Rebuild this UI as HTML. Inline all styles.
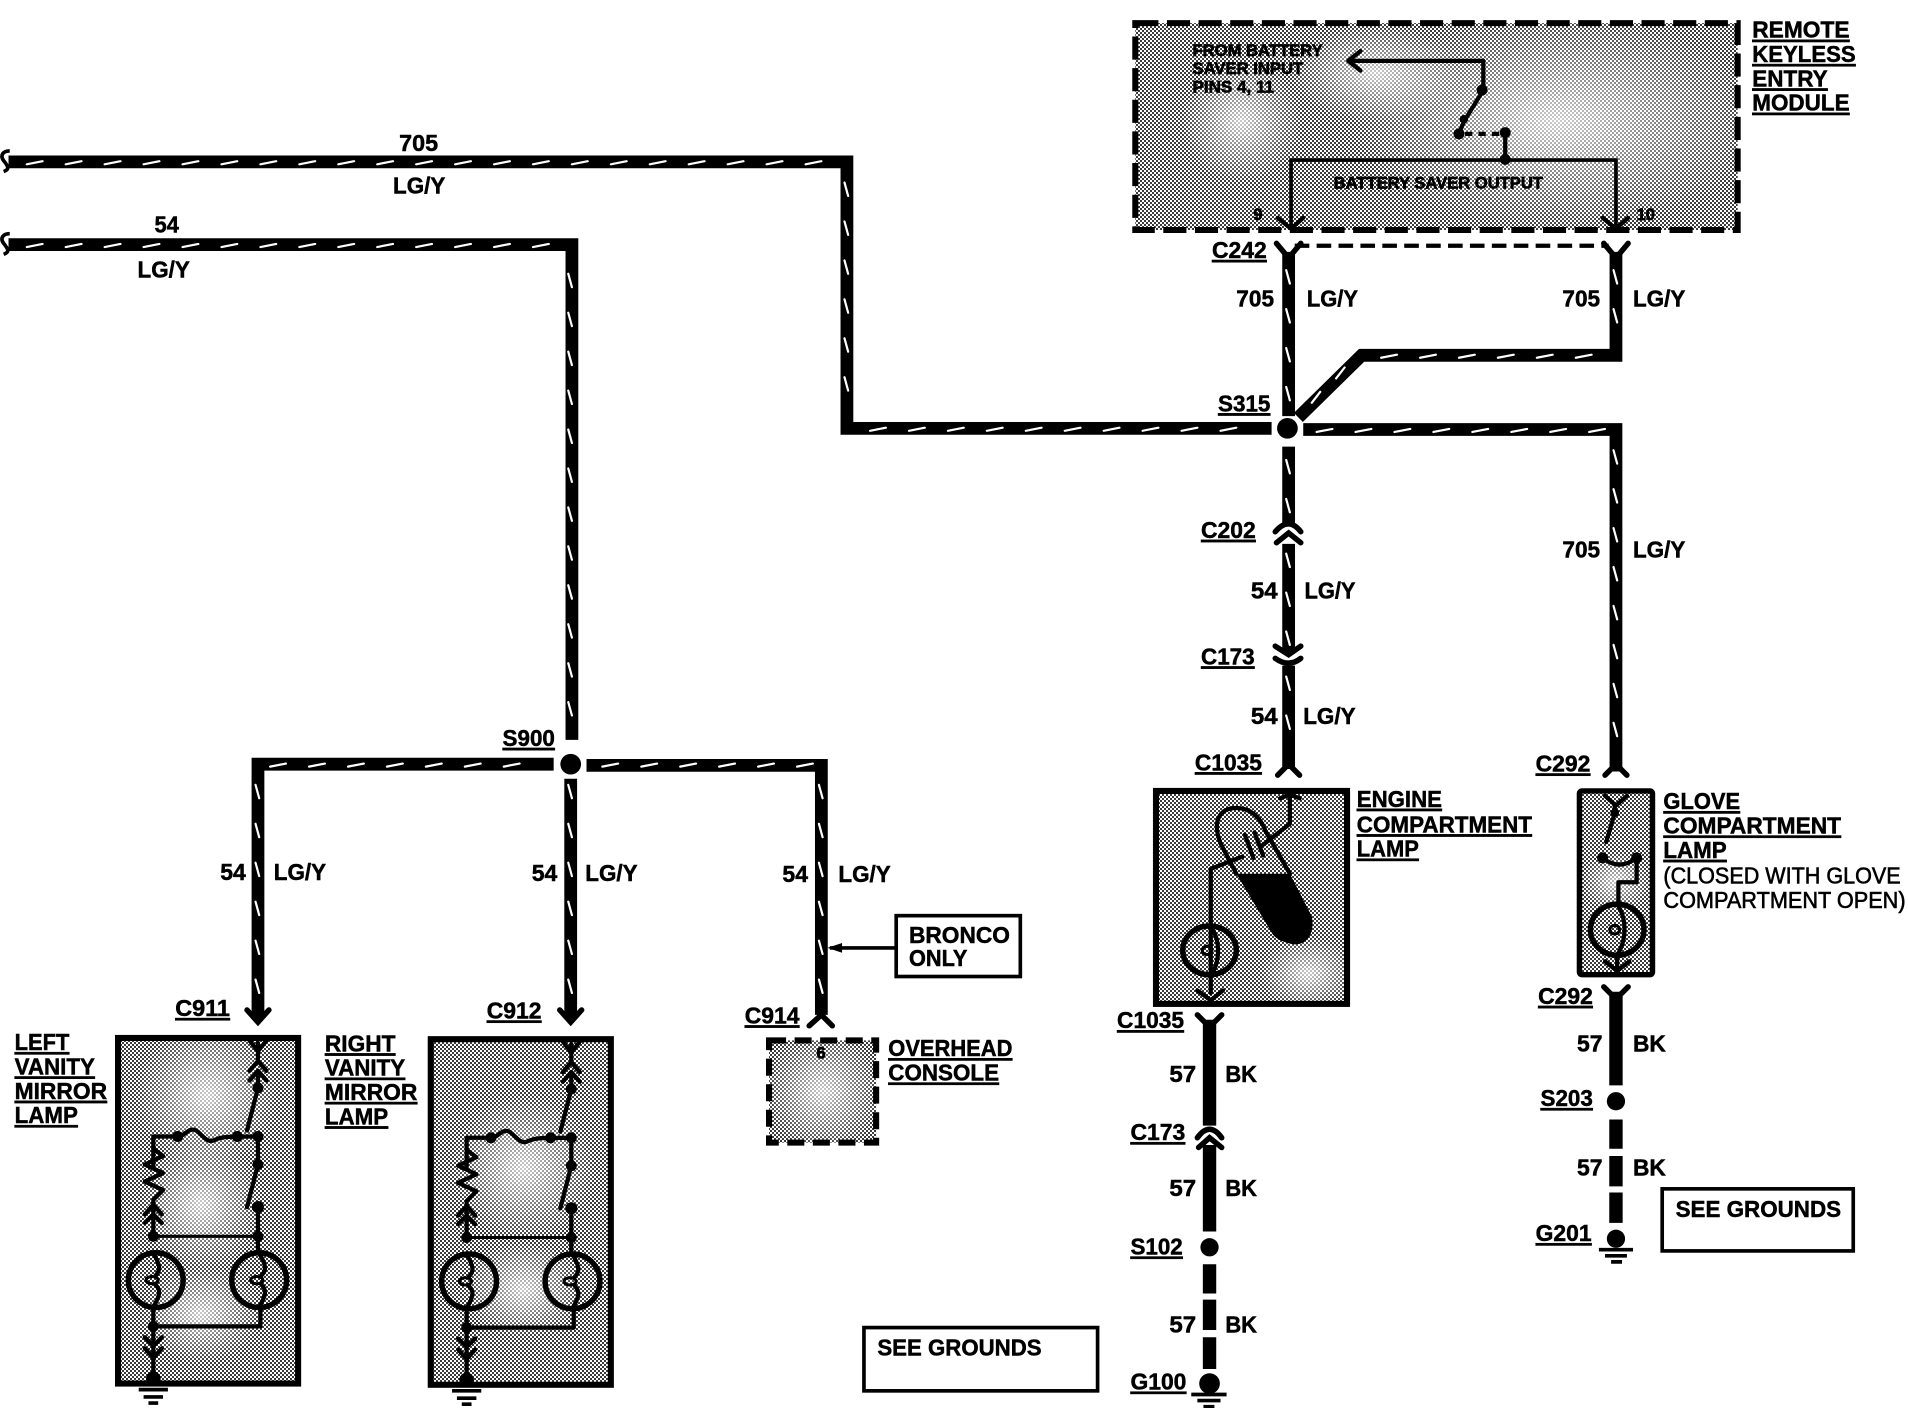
<!DOCTYPE html>
<html><head><meta charset="utf-8"><style>
html,body{margin:0;padding:0;background:#fff;width:1908px;height:1408px;overflow:hidden}
svg{display:block}
text{font-family:"Liberation Sans",sans-serif;font-weight:bold;font-size:19px;fill:#000;stroke:#000;stroke-width:.4px}
.u{text-decoration:underline}
.s{font-size:13.5px;stroke-width:.55px}
.n{font-weight:normal;stroke-width:.5px}
.w{fill:none;stroke:#000;stroke-width:10.5;stroke-linejoin:miter}
.d{fill:none;stroke:#fff;stroke-width:1.8;stroke-linecap:round}
.t{fill:none;stroke:#000;stroke-width:3.5;stroke-linejoin:round;stroke-linecap:round}
.f{fill:none;stroke:#000;stroke-width:4.5;stroke-linejoin:miter;stroke-linecap:round}
</style></head><body>
<svg xmlns="http://www.w3.org/2000/svg" width="1908" height="1408" viewBox="0 0 1568 1157.09">
<defs>
<pattern id="p" patternUnits="userSpaceOnUse" width="3.2872" height="3.2872">
<rect width="3.2872" height="3.2872" fill="#fff"/>
<rect width="1.6436" height="1.6436" fill="#3a3a3a"/>
<rect x="1.6436" y="1.6436" width="1.6436" height="1.6436" fill="#3a3a3a"/>
</pattern>
<radialGradient id="g"><stop offset="0" stop-color="#fff" stop-opacity=".75"/><stop offset="1" stop-color="#fff" stop-opacity="0"/></radialGradient>
<g id="van">
<path class="t" d="M212,857V870M205,855L212,864L219,855M205,880L212,872L219,880M205,888L212,880L219,888"/>
<path class="t" d="M212,880V894L203,929"/>
<path class="t" d="M126,958V934H146C152,934 155,926 161,929C166,932 170,940 176,937C182,934 186,934 212,934V957L203,992"/>
<path class="t" d="M126,944L134,950L119,957L134,964L119,971L134,978L126,986V1016"/>
<path class="t" d="M119,998L126,990L133,998M119,1005L126,998L133,1005"/>
<path class="t" d="M212,992V1016V1030"/>
<path d="M126,1016H212" stroke="#000" stroke-width="2.5"/>
<circle cx="146" cy="934" r="4.5"/><circle cx="195" cy="934" r="4.5"/><circle cx="212" cy="934" r="4.5"/>
<circle cx="212" cy="894" r="4.5"/><circle cx="212" cy="957" r="4.5"/><circle cx="212" cy="992" r="5"/>
<circle cx="126" cy="1016" r="4.5"/><circle cx="212" cy="1016" r="4.5"/>
<circle cx="128" cy="1052" r="22.5" fill="none" stroke="#000" stroke-width="4.5"/>
<circle cx="213" cy="1052" r="22.5" fill="none" stroke="#000" stroke-width="4.5"/>
<path class="t" d="M126,1030C132,1040 132,1044 128,1048M126,1074C132,1064 132,1060 128,1056M213,1030C219,1040 219,1044 215,1048M213,1074C219,1064 219,1060 215,1056"/>
<ellipse cx="125" cy="1052" rx="5" ry="3" fill="none" stroke="#000" stroke-width="2.5"/>
<ellipse cx="211" cy="1052" rx="5" ry="3" fill="none" stroke="#000" stroke-width="2.5"/>
<path class="t" d="M126,1074V1131M214,1074V1090H126"/>
<circle cx="126" cy="1090" r="4.5"/>
<path class="t" d="M119,1099L126,1106L133,1099M119,1108L126,1116L133,1108"/>
<circle cx="126" cy="1133" r="6"/>
<path d="M114,1142H138M118,1148H134M122,1153H130" stroke="#000" stroke-width="3"/>
</g>
</defs>
<rect width="1568" height="1158" fill="#fff"/>

<!-- module -->
<rect x="933" y="19" width="495" height="170" fill="url(#p)"/>
<ellipse cx="1280" cy="100" rx="170" ry="90" fill="url(#g)"/>
<ellipse cx="1130" cy="60" rx="70" ry="40" fill="url(#g)"/>
<ellipse cx="1020" cy="100" rx="50" ry="50" fill="url(#g)"/>
<rect x="933" y="19" width="495" height="170" fill="none" stroke="#000" stroke-width="5" stroke-dasharray="19 7"/>
<path class="t" d="M1219,50H1108M1118,42L1108,50L1118,58"/>
<path class="t" d="M1219,50V74L1203,100L1199,110"/>
<path d="M1204,110H1232" stroke="#000" stroke-width="3.5" stroke-dasharray="6 5"/>
<circle cx="1218" cy="74" r="4.5"/><circle cx="1203" cy="98" r="3.5"/><circle cx="1199" cy="110" r="4.5"/><circle cx="1237" cy="109" r="4.5"/><circle cx="1237" cy="131" r="4.5"/>
<path d="M1237,109V131" stroke="#000" stroke-width="3.5"/>
<path d="M1061,186V131.5H1328V186" fill="none" stroke="#000" stroke-width="3"/>
<path class="t" d="M1050,179L1061,188L1071,179M1317,179L1328,188L1338,179"/>
<text class="s" x="980" y="46" textLength="107" lengthAdjust="spacingAndGlyphs">FROM BATTERY</text>
<text class="s" x="980" y="61" textLength="91" lengthAdjust="spacingAndGlyphs">SAVER INPUT</text>
<text class="s" x="980" y="76" textLength="67" lengthAdjust="spacingAndGlyphs">PINS 4, 11</text>
<text class="s" x="1096" y="155" textLength="172" lengthAdjust="spacingAndGlyphs">BATTERY SAVER OUTPUT</text>
<text class="s" x="1030" y="181">9</text><text class="s" x="1345" y="181">10</text>

<!-- dashed link C242 -->
<path d="M1064,202H1322" stroke="#000" stroke-width="3.5" stroke-dasharray="12 6" fill="none"/>
<path class="f" d="M1049,200L1059,212L1069,200M1318,200L1328,212L1338,200"/>

<!-- wires -->
<path class="w" d="M7,133H696V352H1045"/>
<path class="w" d="M7,201H470V608"/>
<path d="M8,124C2,124 0,128 3,132C7,137 8,139 3,141M8,192C2,192 0,196 3,200C7,205 8,207 3,209" fill="none" stroke="#000" stroke-width="3"/>
<path class="w" d="M469,640V837"/>
<path class="w" d="M455,628H212V837"/>
<path class="w" d="M482,629H675V834"/>
<path class="f" d="M203,830L212,840L221,830M460,830L469,840L478,830"/>
<path class="f" d="M665,843L675,834L684,843"/>
<path class="w" d="M1059,207V342"/>
<path class="w" d="M1328,207V292H1119L1067,343"/>
<path class="w" d="M1071,353H1328V634"/>
<path class="w" d="M1059,367V431M1059,447V536M1059,547V632"/>
<path class="f" d="M1048,437Q1059,424 1069,437M1049,446L1059,438L1069,446M1048,531L1059,538L1069,531M1048,541Q1059,549 1069,541M1050,637L1059,628L1068,637"/>
<path class="f" d="M1319,637L1328,628L1337,637"/>

<!-- white slanted wire dashes -->
<path class="d" d="M22,135l13-2.5m19 2.5l13-2.5m19 2.5l13-2.5m19 2.5l13-2.5m19 2.5l13-2.5m19 2.5l13-2.5m19 2.5l13-2.5m19 2.5l13-2.5m19 2.5l13-2.5m19 2.5l13-2.5m19 2.5l13-2.5m19 2.5l13-2.5m19 2.5l13-2.5m19 2.5l13-2.5m19 2.5l13-2.5m19 2.5l13-2.5m19 2.5l13-2.5m19 2.5l13-2.5m19 2.5l13-2.5m19 2.5l13-2.5m19 2.5l13-2.5"/>
<path class="d" d="M22,203l13-2.5m19 2.5l13-2.5m19 2.5l13-2.5m19 2.5l13-2.5m19 2.5l13-2.5m19 2.5l13-2.5m19 2.5l13-2.5m19 2.5l13-2.5m19 2.5l13-2.5m19 2.5l13-2.5m19 2.5l13-2.5m19 2.5l13-2.5m19 2.5l13-2.5m19 2.5l13-2.5"/>
<path class="d" d="M715,354l13-2.5m19 2.5l13-2.5m19 2.5l13-2.5m19 2.5l13-2.5m19 2.5l13-2.5m19 2.5l13-2.5m19 2.5l13-2.5m19 2.5l13-2.5m19 2.5l13-2.5m19 2.5l13-2.5"/>
<path class="d" d="M222,630l13-2.5m19 2.5l13-2.5m19 2.5l13-2.5m19 2.5l13-2.5m19 2.5l13-2.5m19 2.5l13-2.5m19 2.5l13-2.5"/>
<path class="d" d="M495,630l13-2.5m19 2.5l13-2.5m19 2.5l13-2.5m19 2.5l13-2.5m19 2.5l13-2.5m19 2.5l13-2.5"/>
<path class="d" d="M1135,294l13-2.5m19 2.5l13-2.5m19 2.5l13-2.5m19 2.5l13-2.5m19 2.5l13-2.5m19 2.5l13-2.5"/>
<path class="d" d="M1082,355l13-2.5m19 2.5l13-2.5m19 2.5l13-2.5m19 2.5l13-2.5m19 2.5l13-2.5m19 2.5l13-2.5m19 2.5l13-2.5m19 2.5l13-2.5"/>
<path class="d" d="M694,150l3 11m-3 21l3 11m-3 21l3 11m-3 21l3 11m-3 21l3 11m-3 21l3 11"/>
<path class="d" d="M467,225l3 11m-3 21l3 11m-3 21l3 11m-3 21l3 11m-3 21l3 11m-3 21l3 11m-3 21l3 11m-3 21l3 11m-3 21l3 11m-3 21l3 11m-3 21l3 11m-3 21l3 11"/>
<path class="d" d="M210,645l3 11m-3 21l3 11m-3 21l3 11m-3 21l3 11m-3 21l3 11m-3 21l3 11"/>
<path class="d" d="M467,645l3 11m-3 21l3 11m-3 21l3 11m-3 21l3 11m-3 21l3 11m-3 21l3 11"/>
<path class="d" d="M673,645l3 11m-3 21l3 11m-3 21l3 11m-3 21l3 11m-3 21l3 11m-3 21l3 11"/>
<path class="d" d="M1057,222l3 11m-3 21l3 11m-3 21l3 11m-3 21l3 11"/>
<path class="d" d="M1326,222l3 11m-3 21l3 11"/>
<path class="d" d="M1326,370l3 11m-3 21l3 11m-3 21l3 11m-3 21l3 11m-3 21l3 11m-3 21l3 11m-3 21l3 11m-3 21l3 11"/>
<path class="d" d="M1057,378l3 11m-3 21l3 11M1057,455l3 11m-3 21l3 11m-3 21l3 11M1057,556l3 11m-3 21l3 11"/>
<path class="d" d="M1105,302l-7 9M1085,322l-7 9"/>
<circle cx="1058" cy="352" r="8.5"/>
<circle cx="469" cy="628" r="8.5"/>

<!-- vanity -->
<rect x="97" y="853" width="148" height="284" fill="url(#p)"/>
<ellipse cx="170" cy="900" rx="60" ry="60" fill="url(#g)"/>
<ellipse cx="165" cy="990" rx="50" ry="55" fill="url(#g)"/>
<ellipse cx="165" cy="1080" rx="50" ry="40" fill="url(#g)"/>
<rect x="97" y="853" width="148" height="284" fill="none" stroke="#000" stroke-width="5"/>
<use href="#van"/>
<rect x="354" y="854" width="148" height="284" fill="url(#p)"/>
<ellipse cx="430" cy="960" rx="60" ry="60" fill="url(#g)"/>
<ellipse cx="430" cy="1060" rx="50" ry="40" fill="url(#g)"/>
<rect x="354" y="854" width="148" height="284" fill="none" stroke="#000" stroke-width="5"/>
<use href="#van" transform="translate(257.5,1)"/>

<!-- overhead -->
<rect x="632" y="855" width="88" height="84" fill="url(#p)"/>
<ellipse cx="676" cy="897" rx="50" ry="50" fill="url(#g)"/>
<rect x="632" y="855" width="88" height="84" fill="none" stroke="#000" stroke-width="5" stroke-dasharray="14 7"/>
<text class="s" x="671" y="870">6</text>

<!-- bronco -->
<rect x="736.5" y="752.5" width="102" height="50" fill="#fff" stroke="#000" stroke-width="3"/>
<path d="M682,779H736" stroke="#000" stroke-width="3"/><path d="M680,779L692,775V783Z"/>
<text x="747" y="775" textLength="83" lengthAdjust="spacingAndGlyphs">BRONCO</text>
<text x="747" y="794" textLength="48" lengthAdjust="spacingAndGlyphs">ONLY</text>

<!-- engine -->
<rect x="950" y="650" width="157" height="175" fill="url(#p)"/>
<ellipse cx="1075" cy="800" rx="40" ry="30" fill="url(#g)"/>
<rect x="950" y="650" width="157" height="175" fill="none" stroke="#000" stroke-width="5"/>
<path class="t" d="M1016,718L1003,693C996,675 1002,664 1016,664C1028,664 1036,672 1040,683L1060,718"/>
<path d="M1016,718H1060L1078,753C1081,768 1073,777 1063,776C1056,775 1049,772 1046,768Z"/>
<path class="t" d="M1052,656L1060,653L1068,656M1060,655V677L1037,695M1021,704L995,714V816"/>
<path class="t" d="M1023,686L1030,705M1031,684L1038,703"/>
<ellipse cx="994" cy="781" rx="22" ry="20" fill="none" stroke="#000" stroke-width="4.5"/>
<path class="t" d="M995,762C1003,772 1003,790 995,802"/>
<ellipse cx="992" cy="781" rx="4" ry="3.5" fill="none" stroke="#000" stroke-width="2.5"/>
<path class="t" d="M984,814L995,822L1005,814"/>

<!-- glove -->
<rect x="1298" y="650" width="60" height="151" fill="url(#p)"/>
<ellipse cx="1328" cy="725" rx="28" ry="25" fill="url(#g)"/>
<rect x="1298" y="650" width="60" height="151" fill="none" stroke="#000" stroke-width="4.5" rx="2"/>
<path class="t" d="M1319,654L1328,662L1337,654M1327,662V668L1320,692"/>
<circle cx="1327" cy="668" r="3.5"/>
<circle cx="1317" cy="705" r="4.5"/><circle cx="1345" cy="705" r="4.5"/>
<path class="t" d="M1317,705Q1331,716 1345,705V725H1330V743"/>
<ellipse cx="1329" cy="764" rx="22" ry="21" fill="none" stroke="#000" stroke-width="4.5"/>
<path class="t" d="M1329,743C1337,755 1337,772 1329,785V796"/>
<ellipse cx="1327" cy="764" rx="4" ry="3.5" fill="none" stroke="#000" stroke-width="2.5"/>
<path class="t" d="M1319,790L1329,798L1339,790"/>

<!-- BK left -->
<path d="M994,838V925M994,941V1012M994,1039V1063M994,1068V1093M994,1099V1125" stroke="#000" stroke-width="11" fill="none"/>
<path class="f" d="M984,834L994,844L1004,834M984,935Q994,921 1004,935M985,943L994,935L1004,943"/>
<circle cx="994" cy="1025" r="7.5"/>
<circle cx="994" cy="1137" r="8.5"/>
<path d="M979,1146H1008M984,1151H1003M989,1156H998" stroke="#000" stroke-width="3"/>

<!-- BK right -->
<path d="M1328,815V892M1328,920V944M1328,950V975M1328,980V1005" stroke="#000" stroke-width="11" fill="none"/>
<path class="f" d="M1318,811L1328,821L1338,811"/>
<circle cx="1328" cy="905" r="7.5"/>
<circle cx="1328" cy="1018" r="7.5"/>
<path d="M1314,1027H1342M1319,1032H1337M1324,1037H1333" stroke="#000" stroke-width="3"/>

<!-- see grounds -->
<rect x="710" y="1091" width="192" height="52" fill="#fff" stroke="#000" stroke-width="3"/>
<text x="721" y="1114" textLength="135" lengthAdjust="spacingAndGlyphs">SEE GROUNDS</text>
<rect x="1366" y="977" width="157" height="51" fill="#fff" stroke="#000" stroke-width="3"/>
<text x="1377" y="1000" textLength="136" lengthAdjust="spacingAndGlyphs">SEE GROUNDS</text>

<!-- labels -->
<text class="u" x="1440" y="31" textLength="80" lengthAdjust="spacingAndGlyphs">REMOTE</text>
<text class="u" x="1440" y="51" textLength="85" lengthAdjust="spacingAndGlyphs">KEYLESS</text>
<text class="u" x="1440" y="71" textLength="62" lengthAdjust="spacingAndGlyphs">ENTRY</text>
<text class="u" x="1440" y="91" textLength="80" lengthAdjust="spacingAndGlyphs">MODULE</text>
<text x="328" y="124" textLength="32" lengthAdjust="spacingAndGlyphs">705</text>
<text x="323" y="159" textLength="43" lengthAdjust="spacingAndGlyphs">LG/Y</text>
<text x="127" y="191" textLength="20" lengthAdjust="spacingAndGlyphs">54</text>
<text x="113" y="228" textLength="43" lengthAdjust="spacingAndGlyphs">LG/Y</text>
<text class="u" x="996" y="212" textLength="45" lengthAdjust="spacingAndGlyphs">C242</text>
<text x="1016" y="252" textLength="31" lengthAdjust="spacingAndGlyphs">705</text>
<text x="1074" y="252" textLength="42" lengthAdjust="spacingAndGlyphs">LG/Y</text>
<text x="1284" y="252" textLength="31" lengthAdjust="spacingAndGlyphs">705</text>
<text x="1342" y="252" textLength="43" lengthAdjust="spacingAndGlyphs">LG/Y</text>
<text class="u" x="1001" y="338" textLength="43" lengthAdjust="spacingAndGlyphs">S315</text>
<text class="u" x="987" y="442" textLength="45" lengthAdjust="spacingAndGlyphs">C202</text>
<text x="1284" y="458" textLength="31" lengthAdjust="spacingAndGlyphs">705</text>
<text x="1342" y="458" textLength="43" lengthAdjust="spacingAndGlyphs">LG/Y</text>
<text x="1028" y="492" textLength="22" lengthAdjust="spacingAndGlyphs">54</text>
<text x="1072" y="492" textLength="42" lengthAdjust="spacingAndGlyphs">LG/Y</text>
<text class="u" x="987" y="546" textLength="44" lengthAdjust="spacingAndGlyphs">C173</text>
<text x="1028" y="595" textLength="22" lengthAdjust="spacingAndGlyphs">54</text>
<text x="1071" y="595" textLength="43" lengthAdjust="spacingAndGlyphs">LG/Y</text>
<text class="u" x="982" y="633" textLength="55" lengthAdjust="spacingAndGlyphs">C1035</text>
<text class="u" x="1262" y="634" textLength="45" lengthAdjust="spacingAndGlyphs">C292</text>
<text class="u" x="413" y="613" textLength="43" lengthAdjust="spacingAndGlyphs">S900</text>
<text x="181" y="723" textLength="21" lengthAdjust="spacingAndGlyphs">54</text>
<text x="225" y="723" textLength="43" lengthAdjust="spacingAndGlyphs">LG/Y</text>
<text x="437" y="724" textLength="21" lengthAdjust="spacingAndGlyphs">54</text>
<text x="481" y="724" textLength="43" lengthAdjust="spacingAndGlyphs">LG/Y</text>
<text x="643" y="725" textLength="21" lengthAdjust="spacingAndGlyphs">54</text>
<text x="689" y="725" textLength="43" lengthAdjust="spacingAndGlyphs">LG/Y</text>
<text class="u" x="144" y="835" textLength="45" lengthAdjust="spacingAndGlyphs">C911</text>
<text class="u" x="400" y="837" textLength="45" lengthAdjust="spacingAndGlyphs">C912</text>
<text class="u" x="612" y="841" textLength="45" lengthAdjust="spacingAndGlyphs">C914</text>
<text class="u" x="730" y="868" textLength="102" lengthAdjust="spacingAndGlyphs">OVERHEAD</text>
<text class="u" x="730" y="888" textLength="91" lengthAdjust="spacingAndGlyphs">CONSOLE</text>
<text class="u" x="1115" y="663" textLength="70" lengthAdjust="spacingAndGlyphs">ENGINE</text>
<text class="u" x="1115" y="684" textLength="144" lengthAdjust="spacingAndGlyphs">COMPARTMENT</text>
<text class="u" x="1115" y="704" textLength="51" lengthAdjust="spacingAndGlyphs">LAMP</text>
<text class="u" x="1367" y="665" textLength="63" lengthAdjust="spacingAndGlyphs">GLOVE</text>
<text class="u" x="1367" y="685" textLength="146" lengthAdjust="spacingAndGlyphs">COMPARTMENT</text>
<text class="u" x="1367" y="705" textLength="52" lengthAdjust="spacingAndGlyphs">LAMP</text>
<text class="n" x="1367" y="726" textLength="195" lengthAdjust="spacingAndGlyphs">(CLOSED WITH GLOVE</text>
<text class="n" x="1367" y="746" textLength="199" lengthAdjust="spacingAndGlyphs">COMPARTMENT OPEN)</text>
<text class="u" x="918" y="845" textLength="55" lengthAdjust="spacingAndGlyphs">C1035</text>
<text x="961" y="889" textLength="22" lengthAdjust="spacingAndGlyphs">57</text>
<text x="1007" y="889" textLength="26" lengthAdjust="spacingAndGlyphs">BK</text>
<text class="u" x="929" y="937" textLength="45" lengthAdjust="spacingAndGlyphs">C173</text>
<text x="961" y="983" textLength="22" lengthAdjust="spacingAndGlyphs">57</text>
<text x="1007" y="983" textLength="26" lengthAdjust="spacingAndGlyphs">BK</text>
<text class="u" x="929" y="1031" textLength="43" lengthAdjust="spacingAndGlyphs">S102</text>
<text x="961" y="1095" textLength="22" lengthAdjust="spacingAndGlyphs">57</text>
<text x="1007" y="1095" textLength="26" lengthAdjust="spacingAndGlyphs">BK</text>
<text class="u" x="929" y="1142" textLength="46" lengthAdjust="spacingAndGlyphs">G100</text>
<text class="u" x="1264" y="825" textLength="45" lengthAdjust="spacingAndGlyphs">C292</text>
<text x="1296" y="864" textLength="21" lengthAdjust="spacingAndGlyphs">57</text>
<text x="1342" y="864" textLength="27" lengthAdjust="spacingAndGlyphs">BK</text>
<text class="u" x="1266" y="909" textLength="43" lengthAdjust="spacingAndGlyphs">S203</text>
<text x="1296" y="966" textLength="21" lengthAdjust="spacingAndGlyphs">57</text>
<text x="1342" y="966" textLength="27" lengthAdjust="spacingAndGlyphs">BK</text>
<text class="u" x="1262" y="1020" textLength="46" lengthAdjust="spacingAndGlyphs">G201</text>
<text class="u" x="12" y="863" textLength="45" lengthAdjust="spacingAndGlyphs">LEFT</text>
<text class="u" x="12" y="883" textLength="66" lengthAdjust="spacingAndGlyphs">VANITY</text>
<text class="u" x="12" y="903" textLength="76" lengthAdjust="spacingAndGlyphs">MIRROR</text>
<text class="u" x="12" y="923" textLength="52" lengthAdjust="spacingAndGlyphs">LAMP</text>
<text class="u" x="267" y="864" textLength="58" lengthAdjust="spacingAndGlyphs">RIGHT</text>
<text class="u" x="267" y="884" textLength="66" lengthAdjust="spacingAndGlyphs">VANITY</text>
<text class="u" x="267" y="904" textLength="76" lengthAdjust="spacingAndGlyphs">MIRROR</text>
<text class="u" x="267" y="924" textLength="52" lengthAdjust="spacingAndGlyphs">LAMP</text>
</svg>
</body></html>
